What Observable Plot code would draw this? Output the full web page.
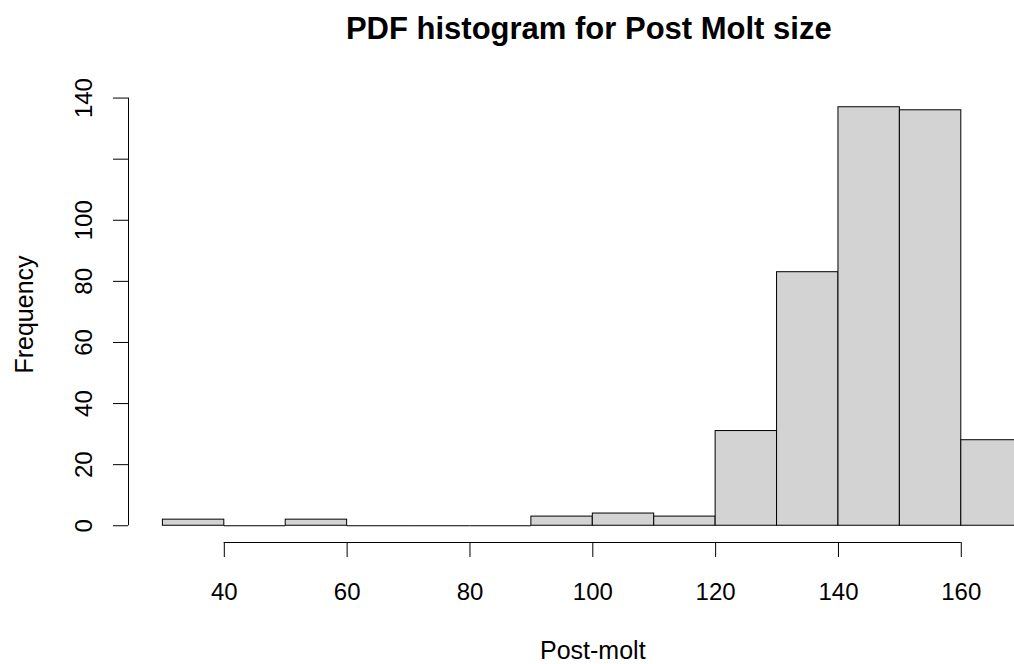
<!DOCTYPE html>
<html><head><meta charset="utf-8">
<script src="https://cdn.jsdelivr.net/npm/d3@7"></script>
<script src="https://cdn.jsdelivr.net/npm/@observablehq/plot@0.6"></script>
<style>
html,body{margin:0;padding:0;background:#fff;overflow:hidden;}
#chart svg{overflow:hidden;display:block;}
</style>
</head><body><div id="chart"></div>
<script>
// Data
const breaks = [30,40,50,60,70,80,90,100,110,120,130,140,150,160,170];
const counts = [2,0,2,0,0,0,3,4,3,31,83,137,136,28];
const xTicks = [40,60,80,100,120,140,160];
const yTicks = [0,20,40,60,80,100,120,140];
const yTickLabels = ["0","20","40","60","80","100","","140"];
const title = "PDF histogram for Post Molt size";
const xLabel = "Post-molt";
const yLabel = "Frequency";

const bins = counts.map((c, i) => ({x1: breaks[i], x2: breaks[i+1], count: c}));

// R-style 4% axis padding
const xMin = breaks[0], xMax = breaks[breaks.length-1];
const xPad = 0.04*(xMax - xMin);
const xLo = xMin - xPad, xHi = xMax + xPad;
const yMax = d3.max(counts);
const yLo = -0.04*yMax, yHi = yMax*1.04;
const xMid = (xLo + xHi)/2, yMid = (yLo + yHi)/2;

const font = "'Liberation Sans', Arial, sans-serif";

const chart = Plot.plot({
  width: 1014,
  height: 664,
  marginLeft: 128,
  marginRight: 0,
  marginTop: 90,
  marginBottom: 122,
  style: {fontFamily: font, background: "#fff", color: "#000"},
  x: {domain: [xLo, xHi], range: [128, 1056.6], axis: null},
  y: {domain: [yLo, yHi], axis: null},
  marks: [
    Plot.rectY(bins.filter(d => d.count > 0), {x1: "x1", x2: "x2", y: "count", fill: "#D3D3D3", stroke: "#000", strokeWidth: 1}),
    Plot.ruleY(bins.filter(d => d.count === 0), {x1: "x1", x2: "x2", y: () => 0, stroke: "#000", strokeWidth: 1}),
    // axis lines
    Plot.ruleY([yLo], {x1: () => xTicks[0], x2: () => xTicks[xTicks.length-1], stroke: "#000"}),
    Plot.ruleX([xLo], {y1: () => yTicks[0], y2: () => yTicks[yTicks.length-1], stroke: "#000"}),
    // ticks
    Plot.axisX(xTicks, {tickSize: 15, tickFormat: () => "", label: null, stroke: "#000"}),
    Plot.axisY(yTicks, {anchor: "left", tickSize: 15, tickFormat: () => "", label: null, stroke: "#000"}),
    // tick labels
    Plot.text(xTicks, {x: d => d, y: () => yLo, text: d => String(d), lineAnchor: "bottom", dy: 57, fontSize: 24, fill: "#000"}),
    Plot.text(yTicks, {y: d => d, x: () => xLo, text: (d, i) => yTickLabels[i], rotate: -90, dx: -44.5, fontSize: 24, fill: "#000"}),
    // titles
    Plot.text([title], {x: () => xMid, y: () => yHi, text: d => d, lineAnchor: "bottom", dx: -4, dy: -52, fontSize: 31, fontWeight: "bold", fill: "#000"}),
    Plot.text([xLabel], {x: () => xMid, y: () => yLo, text: d => d, lineAnchor: "bottom", dy: 116, fontSize: 25, fill: "#000"}),
    Plot.text([yLabel], {x: () => xLo, y: () => yMid, text: d => d, rotate: -90, lineAnchor: "bottom", dx: -96, dy: -2, fontSize: 25, fill: "#000"})
  ]
});
document.getElementById("chart").appendChild(chart);
</script>
</body></html>
